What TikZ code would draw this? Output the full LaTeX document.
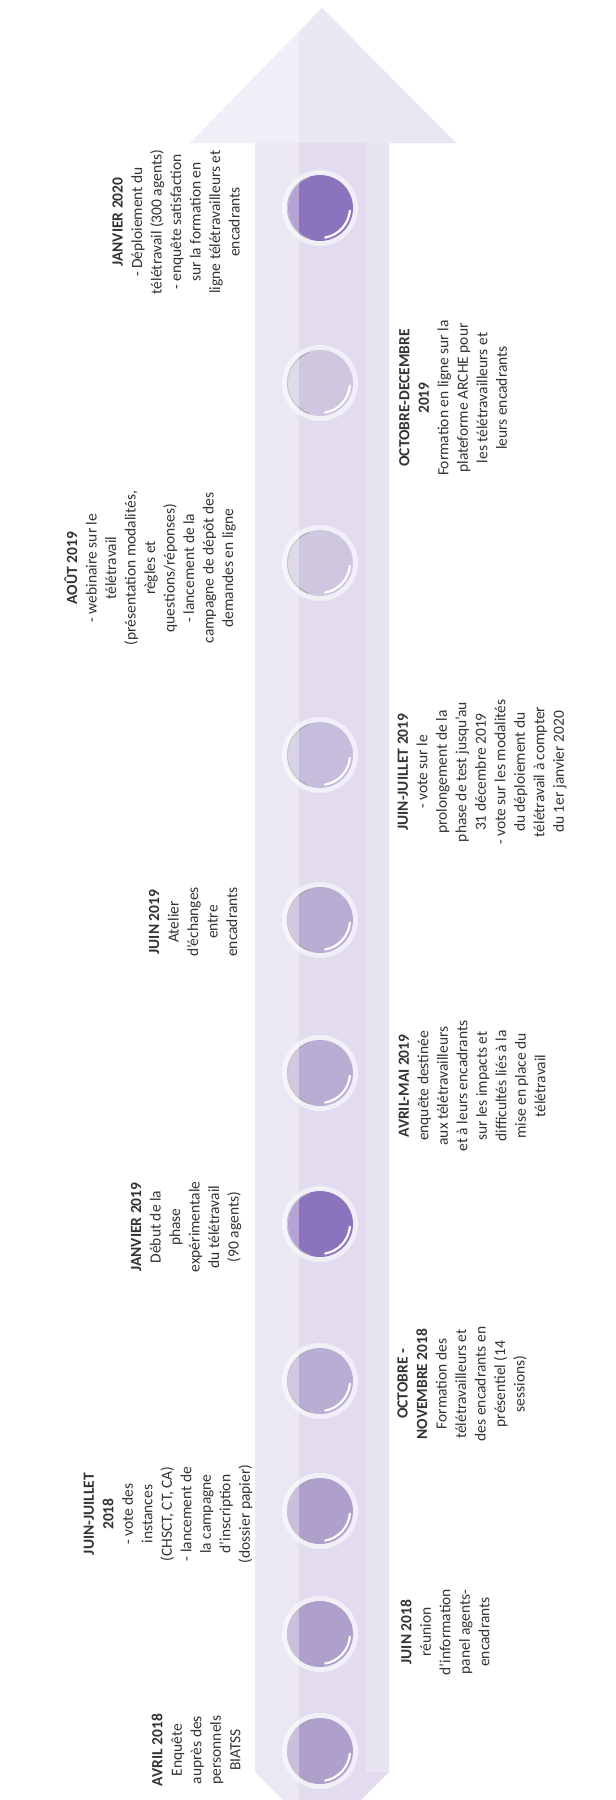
\documentclass[tikz,border=0pt]{standalone}
\usepackage{fontspec}
\setmainfont{Carlito}
\definecolor{shaftcol}{HTML}{E2DCEE}
\definecolor{textgray}{HTML}{333333}
\definecolor{cdark}{HTML}{8C73BE}
\definecolor{cmid}{HTML}{AE9FCC}
\definecolor{cmidl}{HTML}{B9ADD3}
\definecolor{clight}{HTML}{C6BCDB}
\definecolor{clighter}{HTML}{CFC7E0}
\begin{document}
\begin{tikzpicture}[x=1pt,y=-1pt,
  txt/.style={rotate=90, align=center, inner sep=0pt, text=textgray,
    font=\fontsize{15.5}{19.5}\selectfont},
  dot/.style={circle, minimum size=66pt, inner sep=0pt, fill=#1},
  gloss/.style={white, line width=2.2pt, line cap=round},
  rim/.style={gray!70, line width=0.9pt},
  halo/.style={fill=white, opacity=0.55}
]
\useasboundingbox (0,0) rectangle (616,1800);
\fill[white] (0,0) rectangle (616,1800);
% arrow body
\def\arrowpath{(322,8) -- (456,143) -- (389,143) -- (389,1772) -- (361,1800) -- (283,1800) -- (255,1772) -- (255,143) -- (190,143) -- cycle}
\fill[shaftcol] \arrowpath;
\fill[white, opacity=0.3] (322,8) -- (456,143) -- (190,143) -- cycle;
\fill[white, opacity=0.25] (366,143) rectangle (389,1772);
% circles
\foreach \y in {208,383,563,755,920,1073,1224,1381,1511,1634,1751}
  \fill[halo] (320,\y) circle (38);
\node[dot=cdark] (c11) at (320,208) {};
\node[dot=clighter] (c10) at (320,383) {};
\node[dot=clighter] (c9) at (320,563) {};
\node[dot=clight] (c8) at (320,755) {};
\node[dot=cmidl] (c7) at (320,920) {};
\node[dot=cmidl] (c6) at (320,1073) {};
\node[dot=cdark] (c5) at (320,1224) {};
\node[dot=cmidl] (c4) at (320,1381) {};
\node[dot=cmid] (c3) at (320,1511) {};
\node[dot=cmid] (c2) at (320,1634) {};
\node[dot=cmid] (c1) at (320,1751) {};
\foreach \c in {c1,c2,c3,c4,c5,c6,c7,c8,c9,c10,c11}{
  \draw[gloss] (\c.center) ++(5:30) arc[start angle=5, end angle=80, radius=30];
  \draw[rim] (\c.center) ++(110:32.5) arc[start angle=110, end angle=250, radius=32.5];
}
% lighter left strip (collage seam)
\begin{scope}
  \clip \arrowpath;
  \fill[white, opacity=0.35] (150,0) rectangle (299,1800);
\end{scope}
% texts
\node[txt] (t11) at (176,222) {\textbf{JANVIER 2020}\\- Déploiement du\\télétravail (300 agents)\\- enquête satisfaction\\sur la formation en\\ligne télétravailleurs et\\encadrants};
\node[txt] (t10) at (453,398) {\textbf{OCTOBRE-DECEMBRE}\\\textbf{2019}\\Formation en ligne sur la\\plateforme ARCHE pour\\les télétravailleurs et\\leurs encadrants};
\node[txt] (t9) at (150,568) {\textbf{AOÛT 2019}\\- webinaire sur le\\télétravail\\(présentation modalités,\\règles et\\questions/réponses)\\- lancement de la\\campagne de dépôt des\\demandes en ligne};
\node[txt] (t8) at (482,772) {\textbf{JUIN-JUILLET 2019}\\- vote sur le\\prolongement de la\\phase de test jusqu'au\\31 décembre 2019\\- vote sur les modalités\\du déploiement du\\télétravail à compter\\du 1er janvier 2020};
\node[txt] (t7) at (193,922) {\textbf{JUIN 2019}\\Atelier\\d'échanges\\entre\\encadrants};
\node[txt] (t6) at (472,1086) {\textbf{AVRIL-MAI 2019}\\enquête destinée\\aux télétravailleurs\\et à leurs encadrants\\sur les impacts et\\difficultés liés à la\\mise en place du\\télétravail};
\node[txt] (t5) at (186,1227) {\textbf{JANVIER 2019}\\Début de la\\phase\\expérimentale\\du télétravail\\(90 agents)};
\node[txt] (t4) at (462,1384) {\textbf{OCTOBRE -}\\\textbf{NOVEMBRE 2018}\\Formation des\\télétravailleurs et\\des encadrants en\\présentiel (14\\sessions)};
\node[txt] (t3) at (168,1514) {\textbf{JUIN-JUILLET}\\\textbf{2018}\\- vote des\\instances\\(CHSCT, CT, CA)\\- lancement de\\la campagne\\d'inscription\\(dossier papier)};
\node[txt] (t2) at (445,1632) {\textbf{JUIN 2018}\\réunion\\d'information\\panel agents-\\encadrants};
\node[txt] (t1) at (196,1750) {\textbf{AVRIL 2018}\\Enquête\\auprès des\\personnels\\BIATSS};
\end{tikzpicture}
\end{document}
